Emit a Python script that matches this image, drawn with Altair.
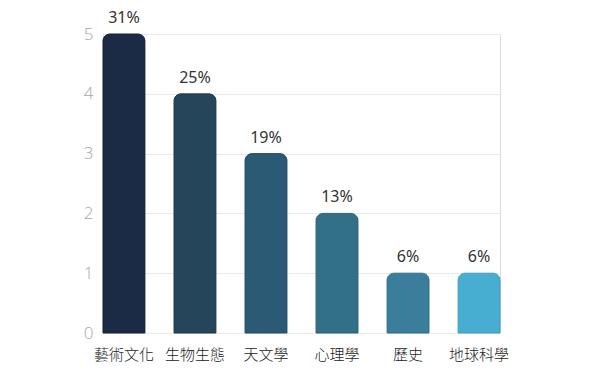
import altair as alt
import pandas as pd

categories = ["藝術文化", "生物生態", "天文學", "心理學", "歷史", "地球科學"]
counts = [5, 4, 3, 2, 1, 1]
pct_labels = ["31%", "25%", "19%", "13%", "6%", "6%"]
fill_colors = ["#1b2a45", "#25455a", "#2b5a74", "#327088", "#3a7e9c", "#47aed2"]
stroke_colors = ["#15223a", "#1f3b4f", "#244f68", "#2a627a", "#30708e", "#3ea0c4"]

df = pd.DataFrame({"cat": categories, "count": counts, "pct": pct_labels})

x_enc = alt.X("cat:N", sort=categories, title=None,
              scale=alt.Scale(paddingInner=0.41, paddingOuter=0),
              axis=alt.Axis(labelAngle=0, labelFont="Noto Sans CJK TC", labelFontSize=15,
                            labelFontWeight=300,
                            labelColor="#222222", labelPadding=14, ticks=False,
                            domain=False, grid=False))
y_enc = alt.Y("count:Q", title=None, scale=alt.Scale(domain=[0, 5], nice=False),
              axis=alt.Axis(values=[0, 1, 2, 3, 4, 5], labelFont="Open Sans", labelFontSize=17,
                            labelFontWeight=300,
                            labelColor="#a6a6a6", labelPadding=10, ticks=False, domain=False,
                            grid=True, gridColor="#e9e9e9", gridWidth=1, format="d"))

bars = alt.Chart(df).mark_bar(cornerRadiusTopLeft=7, cornerRadiusTopRight=7,
                              strokeWidth=1).encode(
    x=x_enc, y=y_enc,
    color=alt.Color("cat:N", sort=categories,
                    scale=alt.Scale(domain=categories, range=fill_colors), legend=None),
    stroke=alt.Stroke("cat:N", sort=categories,
                      scale=alt.Scale(domain=categories, range=stroke_colors), legend=None),
)

text = alt.Chart(df).mark_text(baseline="bottom", dy=-8, font="Noto Sans", fontSize=16,
                               color="#333333").encode(
    x=alt.X("cat:N", sort=categories), y="count:Q", text="pct:N")

chart = (bars + text).properties(
    width=397, height=299,
    autosize=alt.AutoSizeParams(type="none"),
    padding={"left": 95, "top": 26, "right": 90, "bottom": 42},
).configure_view(stroke=None).configure(background="white")

chart.save("out.html", embed_options={"renderer": "svg", "actions": False})
